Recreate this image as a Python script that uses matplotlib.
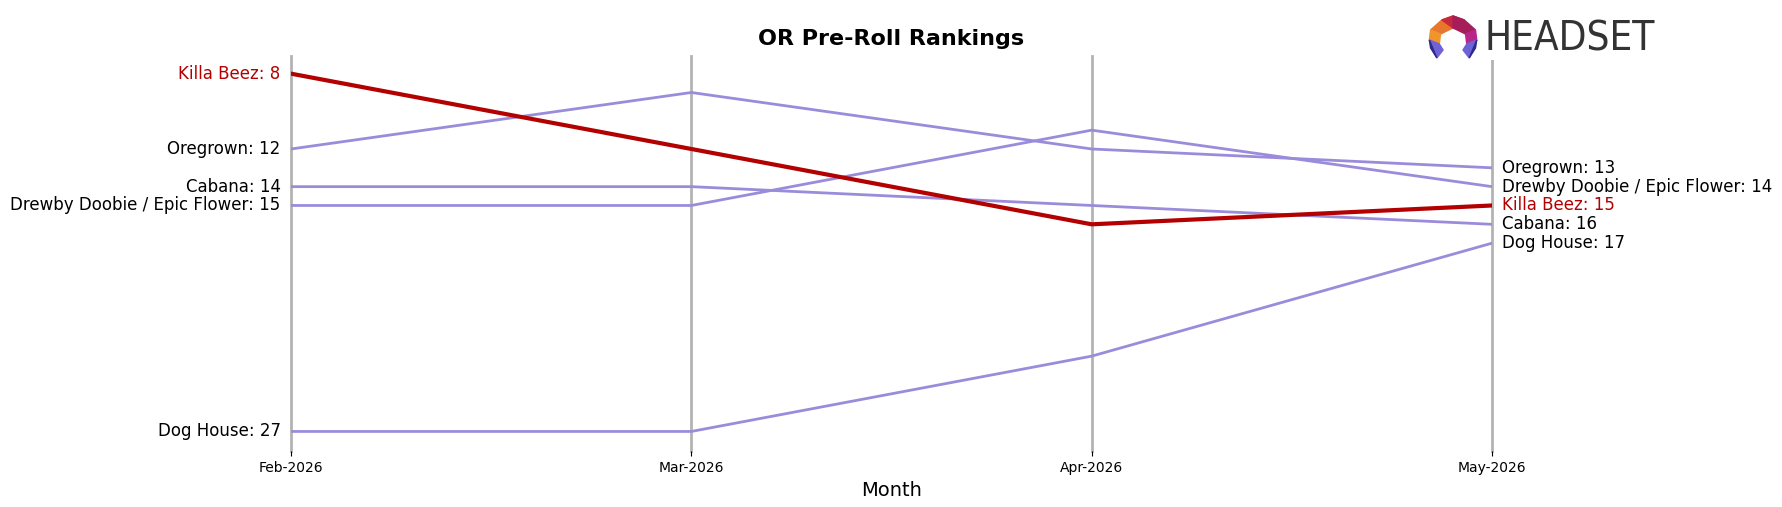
import matplotlib
matplotlib.use('Agg')
import matplotlib.pyplot as plt
from matplotlib.patches import Polygon, Rectangle

# Ranking data
months = ['Feb-2026', 'Mar-2026', 'Apr-2026', 'May-2026']
brands = ['Killa Beez', 'Oregrown', 'Cabana', 'Drewby Doobie / Epic Flower', 'Dog House']
killa_beez = [8, 12, 16, 15]
oregrown = [12, 9, 12, 13]
cabana = [14, 14, 15, 16]
drewby = [15, 15, 11, 14]
dog_house = [27, 27, 23, 17]
ranks = [killa_beez, oregrown, cabana, drewby, dog_house]
highlight = 'Killa Beez'

red = '#B30000'
purple = '#9B8CDB'

fig = plt.figure(figsize=(17.82, 5.07), dpi=100)
ax = fig.add_axes([0.1633, 0.11, 0.6740, 0.78])

x = list(range(len(months)))
for xi in x:
    ax.axvline(xi, color='#B3B3B3', linewidth=2, zorder=1, clip_on=False)

for name, r in zip(brands, ranks):
    is_hl = name == highlight
    color = red if is_hl else purple
    ax.plot(x, r, color=color, linewidth=3 if is_hl else 2, zorder=3 if is_hl else 2)
    ax.annotate(f'{name}: {r[0]}', (x[0], r[0]), xytext=(-7.5, 0), textcoords='offset points',
                ha='right', va='center', fontsize=12, color=red if is_hl else 'black')
    ax.annotate(f'{name}: {r[-1]}', (x[-1], r[-1]), xytext=(7, 0), textcoords='offset points',
                ha='left', va='center', fontsize=12, color=red if is_hl else 'black')

all_ranks = [v for r in ranks for v in r]
ax.set_ylim(max(all_ranks) + 1.05, min(all_ranks) - 0.95)
ax.set_xlim(x[0], x[-1])
ax.set_xticks(x)
ax.set_xticklabels(months, fontsize=10)
ax.set_yticks([])
for s in ax.spines.values():
    s.set_visible(False)
ax.set_xlabel('Month', fontsize=14)
ax.set_title('OR Pre-Roll Rankings', fontsize=16, fontweight='bold', pad=8)

# Headset logo (drawn, top right)
lax = fig.add_axes([0.800, 0.8817, 0.14, 0.0947])
lax.set_xlim(0, 200)
lax.set_ylim(12, 60)
lax.axis('off')
lax.add_patch(Rectangle((0, 12), 200, 48, color='white', zorder=0))
lax.add_patch(Polygon([[4, 42], [13, 52], [22, 56], [22, 44], [12, 38]], color='#E8762D'))
lax.add_patch(Polygon([[13, 52], [22, 56], [31, 52], [22, 44]], color='#C8283C'))
lax.add_patch(Polygon([[22, 56], [31, 52], [40, 42], [32, 38], [22, 44]], color='#A51E5A'))
lax.add_patch(Polygon([[40, 42], [41, 32], [33, 28], [32, 38]], color='#B8268A'))
lax.add_patch(Polygon([[4, 42], [3, 32], [11, 28], [12, 38]], color='#F0942C'))
lax.add_patch(Polygon([[3, 32], [11, 28], [14, 22], [9, 14]], color='#6E62D6'))
lax.add_patch(Polygon([[3, 32], [9, 14], [4, 24]], color='#2E2A8C'))
lax.add_patch(Polygon([[41, 32], [33, 28], [30, 22], [35, 14]], color='#6E62D6'))
lax.add_patch(Polygon([[41, 32], [35, 14], [40, 24]], color='#2E2A8C'))
lax.text(47, 32, 'HEADSET', fontsize=29, color='#333333', va='center', ha='left',
         family=['Liberation Sans Narrow', 'DejaVu Sans'], fontstretch='condensed')

fig.savefig('out.png', dpi=100)
